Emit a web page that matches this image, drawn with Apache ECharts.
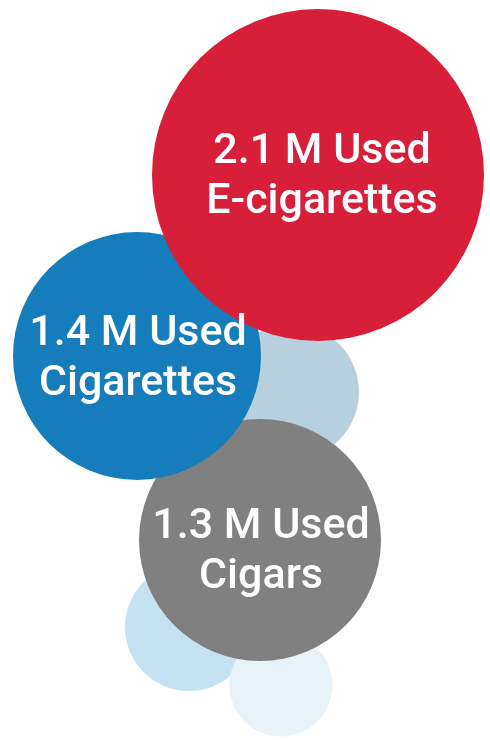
<!DOCTYPE html>
<html>
<head>
<meta charset="utf-8">
<script src="https://cdn.jsdelivr.net/npm/echarts@6/dist/echarts.min.js"></script>
<style>html,body{margin:0;padding:0;background:#fff;}#c{width:490px;height:740px;}</style>
</head>
<body>
<div id="c"></div>
<script>
// Main bubbles
const products = ['E-cigarettes', 'Cigarettes', 'Cigars'];
const usersMillions = [2.1, 1.4, 1.3];
const bubbleX = [318, 137, 260];
const bubbleY = [175, 356, 540];
// Decorative background bubbles
const decoX = [291, 189, 281];
const decoY = [392, 627, 685];

const mainColors = ['#D81F3A', '#167DBC', '#808080'];
const mainDiam = [332, 248, 242];
const labelOffsets = [[4, 2], [1, 3], [1, 12]];
const decoColors = ['#B8D0DE', '#C5E2F0', '#E7F2F9'];
const decoDiam = [136, 128, 103];

const decoData = decoX.map((x, i) => ({
  value: [x, decoY[i]],
  symbolSize: decoDiam[i],
  itemStyle: { color: decoColors[i], opacity: 1 }
}));

// drawing order: gray (bottom), blue, red (top)
const order = [2, 1, 0];
const mainData = order.map(i => ({
  value: [bubbleX[i], bubbleY[i]],
  symbolSize: mainDiam[i],
  itemStyle: { color: mainColors[i], opacity: 1 },
  label: {
    show: true,
    formatter: usersMillions[i].toFixed(1) + ' M Used\n' + products[i],
    offset: labelOffsets[i]
  }
}));

const chart = echarts.init(document.getElementById('c'));
chart.setOption({
  backgroundColor: '#ffffff',
  animation: false,
  grid: { left: 0, right: 0, top: 0, bottom: 0 },
  xAxis: { type: 'value', min: 0, max: 490, show: false },
  yAxis: { type: 'value', min: 0, max: 740, inverse: true, show: false },
  series: [
    {
      type: 'scatter',
      symbol: 'circle',
      data: decoData,
      itemStyle: { opacity: 1 },
      silent: true,
      z: 1
    },
    {
      type: 'scatter',
      symbol: 'circle',
      data: mainData,
      itemStyle: { opacity: 1 },
      z: 2,
      label: {
        show: true,
        position: 'inside',
        color: '#ffffff',
        fontFamily: 'Roboto',
        fontWeight: 500,
        fontSize: 43,
        lineHeight: 50,
        align: 'center'
      }
    }
  ]
});
</script>
</body>
</html>
